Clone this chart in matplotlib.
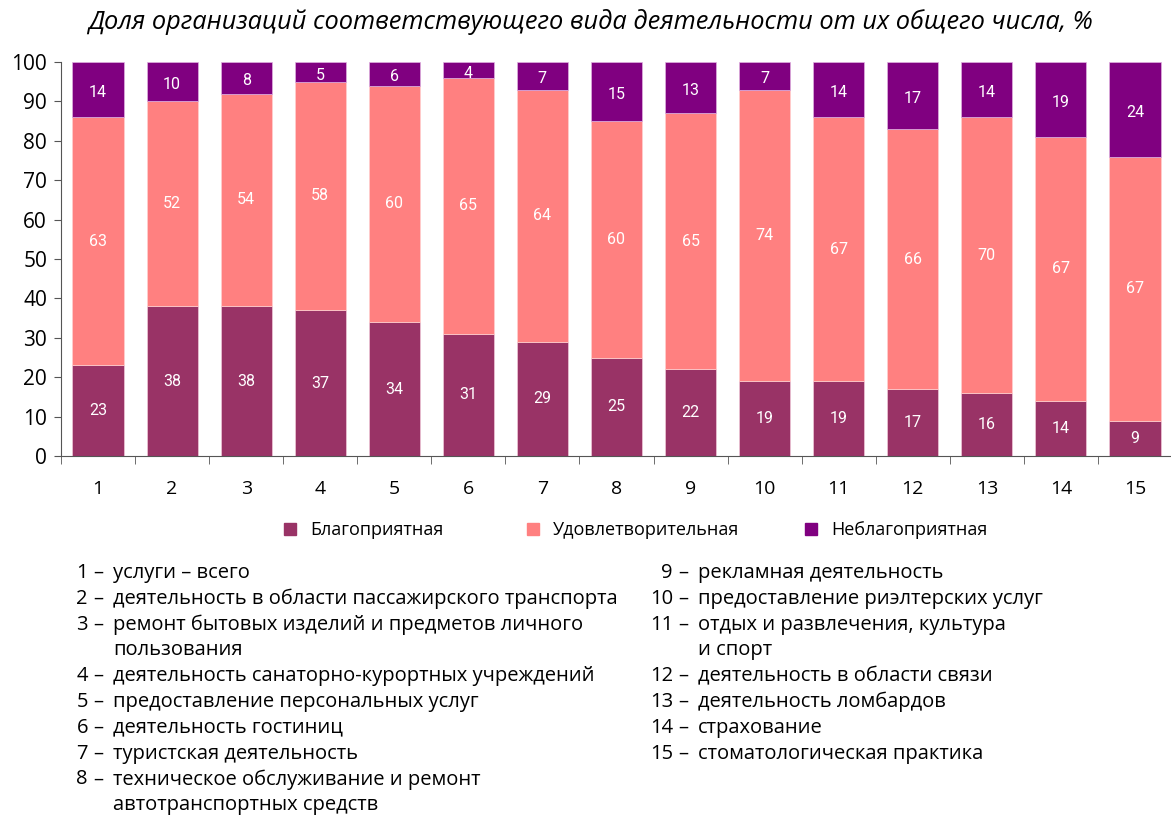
import matplotlib
matplotlib.use("Agg")
import matplotlib.pyplot as plt
from matplotlib.lines import Line2D

# ---- data ----
categories = [str(i) for i in range(1, 16)]
favorable = [23, 38, 38, 37, 34, 31, 29, 25, 22, 19, 19, 17, 16, 14, 9]
satisfactory = [63, 52, 54, 58, 60, 65, 64, 60, 65, 74, 67, 66, 70, 67, 67]
unfavorable = [14, 10, 8, 5, 6, 4, 7, 15, 13, 7, 14, 17, 14, 19, 24]
series_names = ['Благоприятная', 'Удовлетворительная', 'Неблагоприятная']
title = 'Доля организаций соответствующего вида деятельности от их общего числа, %'

left_notes = [
    ('1', ['услуги – всего']),
    ('2', ['деятельность в области пассажирского транспорта']),
    ('3', ['ремонт бытовых изделий и предметов личного', 'пользования']),
    ('4', ['деятельность санаторно-курортных учреждений']),
    ('5', ['предоставление персональных услуг']),
    ('6', ['деятельность гостиниц']),
    ('7', ['туристская деятельность']),
    ('8', ['техническое обслуживание и ремонт', 'автотранспортных средств']),
]
right_notes = [
    ('9', ['рекламная деятельность']),
    ('10', ['предоставление риэлтерских услуг']),
    ('11', ['отдых и развлечения, культура', 'и спорт']),
    ('12', ['деятельность в области связи']),
    ('13', ['деятельность ломбардов']),
    ('14', ['страхование']),
    ('15', ['стоматологическая практика']),
]

colors = ['#993366', '#FF8080', '#800080']
txt_font = ['Open Sans', 'DejaVu Sans']
lbl_font = ['Roboto', 'DejaVu Sans']

plt.rcParams['font.family'] = txt_font

W, H = 1171, 817
fig = plt.figure(figsize=(W / 100, H / 100), dpi=100)
ax = fig.add_axes([61 / W, (H - 456) / H, 1111 / W, 394 / H])

x = list(range(len(categories)))
bottoms2 = [a + b for a, b in zip(favorable, satisfactory)]
ax.bar(x, favorable, width=0.69, color=colors[0], edgecolor='#f0c8d8', linewidth=0.5)
ax.bar(x, satisfactory, bottom=favorable, width=0.69, color=colors[1], edgecolor='#ffd0d0', linewidth=0.5)
ax.bar(x, unfavorable, bottom=bottoms2, width=0.69, color=colors[2], edgecolor='#e0b0e0', linewidth=0.5)

for i in x:
    ax.text(i, favorable[i] / 2, str(favorable[i]), ha='center', va='center',
            color='white', fontsize=11.5, family=lbl_font)
    ax.text(i, favorable[i] + satisfactory[i] / 2, str(satisfactory[i]), ha='center', va='center',
            color='white', fontsize=11.5, family=lbl_font)
    ax.text(i, bottoms2[i] + unfavorable[i] / 2 - 0.8, str(unfavorable[i]), ha='center', va='center',
            color='white', fontsize=11.5, family=lbl_font)

ax.set_xlim(-0.5, 14.5)
ax.set_ylim(0, 100)
ax.set_yticks(range(0, 101, 10))
ax.set_xticks(x)
ax.set_xticklabels(categories)
ax.set_xticks([i - 0.5 for i in range(16)], minor=True)
ax.tick_params(axis='x', which='major', length=0, pad=17, labelsize=14)
ax.tick_params(axis='x', which='minor', length=6, direction='out', color='#555555')
ax.tick_params(axis='y', length=5, direction='out', color='#555555', labelsize=15, pad=5)
for s in ['top', 'right']:
    ax.spines[s].set_visible(False)
ax.spines['left'].set_color('#555555')
ax.spines['bottom'].set_color('#555555')

fig.text(590 / W, 1 - 22 / H, title, ha='center', va='center', fontsize=18.3, style='italic')

# legend: one entry per call so each sits where the reference has it
leg_x = [283, 526, 804]
for c, name, lx in zip(colors, series_names, leg_x):
    h = Line2D([], [], marker='s', linestyle='none', markersize=9, color=c)
    fig.legend([h], [name], loc='center left', bbox_to_anchor=(lx / W, 1 - 530 / H),
               frameon=False, fontsize=13, borderpad=0, borderaxespad=0,
               handlelength=0.8, handletextpad=0.7)

def draw_notes(notes, x_num, y0, step=25.8):
    y = y0
    for num, lines in notes:
        fig.text(x_num / W, 1 - y / H, num, ha='right', va='center', fontsize=14.5)
        fig.text((x_num + 5) / W, 1 - y / H, '–', ha='left', va='center', fontsize=14.5)
        for ln in lines:
            fig.text((x_num + 25) / W, 1 - y / H, ln, ha='left', va='center', fontsize=14.5)
            y += step

draw_notes(left_notes, 88, 573)
draw_notes(right_notes, 673, 573)

fig.savefig('out.png', dpi=100)
